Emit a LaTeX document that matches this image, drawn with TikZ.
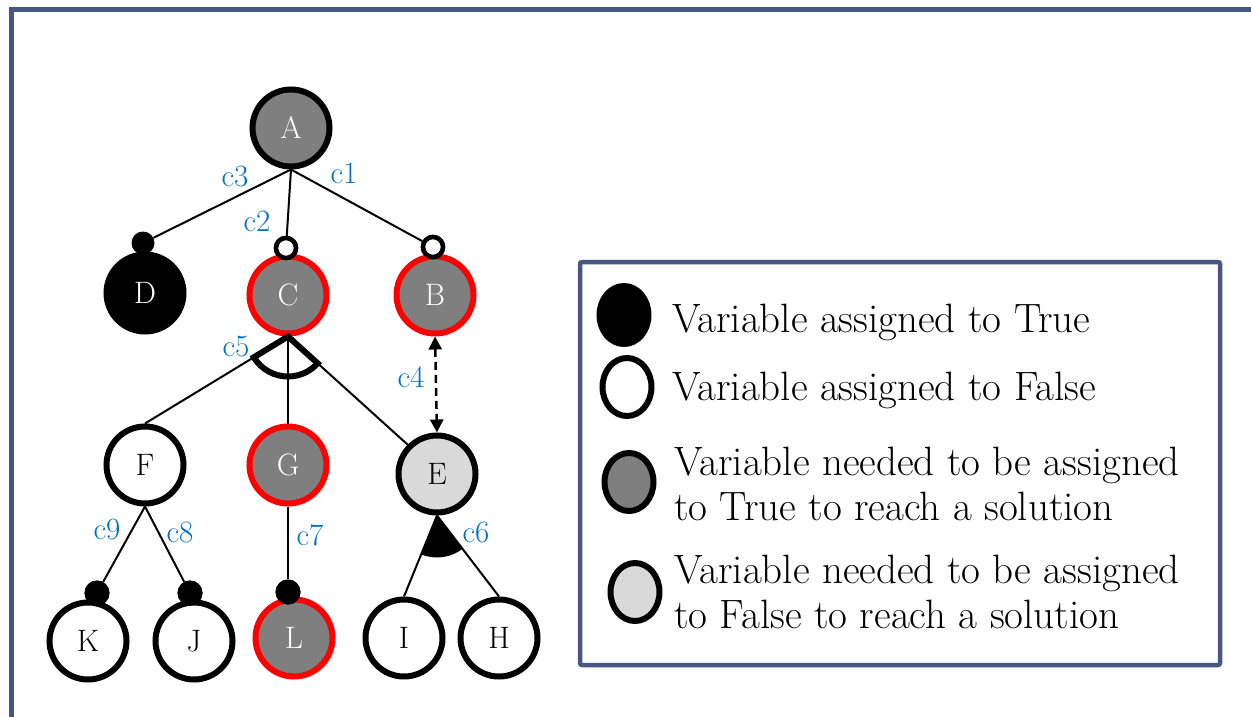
\documentclass[tikz,border=0pt]{standalone}
\usetikzlibrary{calc,arrows.meta,shapes.geometric}
\definecolor{framec}{HTML}{475683}
\definecolor{midgray}{HTML}{7F7F7F}
\definecolor{palegray}{HTML}{D9D9D9}
\definecolor{lblue}{HTML}{0070C0}
\tikzset{
  x=1pt, y=1pt,
  vnode/.style={circle, minimum size=77pt, inner sep=0pt, line width=6pt, font=\fontsize{31}{33}\selectfont},
  truenode/.style={vnode, draw=black, fill=black, text=white},
  falsenode/.style={vnode, draw=black, fill=white, text=black},
  needtrue/.style={vnode, draw=red, fill=midgray, text=white},
  rootnode/.style={vnode, draw=black, fill=midgray, text=white},
  needfalse/.style={vnode, draw=black, fill=palegray, text=black},
  edgeline/.style={line width=2pt},
  dotT/.style={circle, fill=black, minimum size=24pt, inner sep=0pt},
  dotF/.style={circle, draw=black, fill=white, line width=4.5pt, minimum size=20pt, inner sep=0pt},
  clabel/.style={text=lblue, font=\fontsize{31}{33}\selectfont, inner sep=0pt},
  wedgeline/.style={line width=6pt},
  legsym/.style={ellipse, line width=6pt, draw=black, minimum width=49pt, minimum height=58pt, inner sep=0pt},
  legtext/.style={anchor=base west, align=left, inner sep=0pt, font=\fontsize{41}{44.5}\selectfont},
}
\begin{document}
\begin{tikzpicture}
\useasboundingbox (0,0) rectangle (1251,-717);
% outer frame
\draw[framec, line width=5pt] (11,-760) -- (11,-10) -- (1290,-10);

% tree nodes
\node[rootnode]  (A) at (291,-128) {A};
\node[truenode]  (D) at (145,-293) {D};
\node[needtrue]  (C) at (288,-295) {C};
\node[needtrue]  (B) at (435,-295) {B};
\node[falsenode] (F) at (145,-465) {F};
\node[needtrue]  (G) at (288,-465) {G};
\node[needfalse] (E) at (437,-474) {E};
\node[falsenode] (K) at (88,-641) {K};
\node[falsenode] (J) at (194,-641) {J};
\node[needtrue]  (L) at (294,-638) {L};
\node[falsenode] (I) at (404,-638) {I};
\node[falsenode] (H) at (499,-638) {H};

% connector ends
\node[dotT, minimum size=23pt] (dD) at (143,-243) {};
\node[dotF] (dC) at (286,-248) {};
\node[dotF] (dB) at (433,-247) {};
\node[dotT, minimum size=25pt] (dK) at (97,-593) {};
\node[dotT, minimum size=25pt] (dJ) at (190,-593) {};
\node[dotT, minimum size=25pt] (dL) at (288,-592) {};

% connectors from A
\draw[edgeline] (A.south) -- (dD);
\draw[edgeline] (A.south) -- (dC);
\draw[edgeline] (A.south) -- (dB);
\node[dotF] at (dC) {};
\node[dotF] at (dB) {};

% AND wedge from C
\draw[edgeline] (C.south) -- (F.north);
\draw[edgeline] (C.south) -- (G.north);
\draw[edgeline] (C.south) -- (E.north west);
\draw[wedgeline] let \p1=($(F.north)-(C.south)$), \p2=($(E.north west)-(C.south)$),
  \n1={atan2(\y1,\x1)}, \n2={atan2(\y2,\x2)} in
  (C.south) -- ++(\n1:40) arc[start angle=\n1, end angle=\n2, radius=40] -- cycle;

% filled wedge from E
\draw[edgeline] (E.south) -- (I.north);
\draw[edgeline] (E.south) -- (H.north);
\fill let \p1=($(I.north)-(E.south)$), \p2=($(H.north)-(E.south)$),
  \n1={atan2(\y1,\x1)}, \n2={atan2(\y2,\x2)} in
  (E.south) -- ++(\n1:42) arc[start angle=\n1, end angle=\n2, radius=42] -- cycle;

% c4 dashed arrow
\draw[line width=2.5pt, dash pattern=on 8pt off 5pt,
  {Triangle[length=13pt,width=13pt]}-{Triangle[length=13pt,width=13pt]}] (B.south) -- (E.north);

% F, G connectors
\draw[edgeline] (F.south) -- (dK);
\draw[edgeline] (F.south) -- (dJ);
\draw[edgeline] (G.south) -- (dL);
\node[dotT, minimum size=25pt] at (dK) {};
\node[dotT, minimum size=25pt] at (dJ) {};
\node[dotT, minimum size=25pt] at (dL) {};

% labels
\node[clabel] (lc3) at (235,-177) {c3};
\node[clabel] (lc1) at (344,-173) {c1};
\node[clabel] (lc2) at (257,-221) {c2};
\node[clabel] (lc5) at (236,-347) {c5};
\node[clabel] (lc4) at (411,-377) {c4};
\node[clabel] (lc6) at (476,-532) {c6};
\node[clabel] (lc9) at (107,-529) {c9};
\node[clabel] (lc8) at (180,-532) {c8};
\node[clabel] (lc7) at (310,-535) {c7};

% legend
\draw[framec, line width=4.5pt, rounded corners=2pt] (580,-262) rectangle (1220,-665);
\node[legsym, fill=black] (s1) at (624,-315) {};
\node[legsym, fill=white] (s2) at (627,-387) {};
\node[legsym, fill=midgray] (s3) at (629,-482) {};
\node[legsym, fill=palegray] (s4) at (635,-592) {};
\node[legtext] (t1) at (672,-332) {Variable assigned to True};
\node[legtext] (t2) at (672,-400) {Variable assigned to False};
\node[legtext] (t3) at (674,-520) {Variable needed to be assigned\\to True to reach a solution};
\node[legtext] (t4) at (674,-628) {Variable needed to be assigned\\to False to reach a solution};
\end{tikzpicture}
\end{document}
